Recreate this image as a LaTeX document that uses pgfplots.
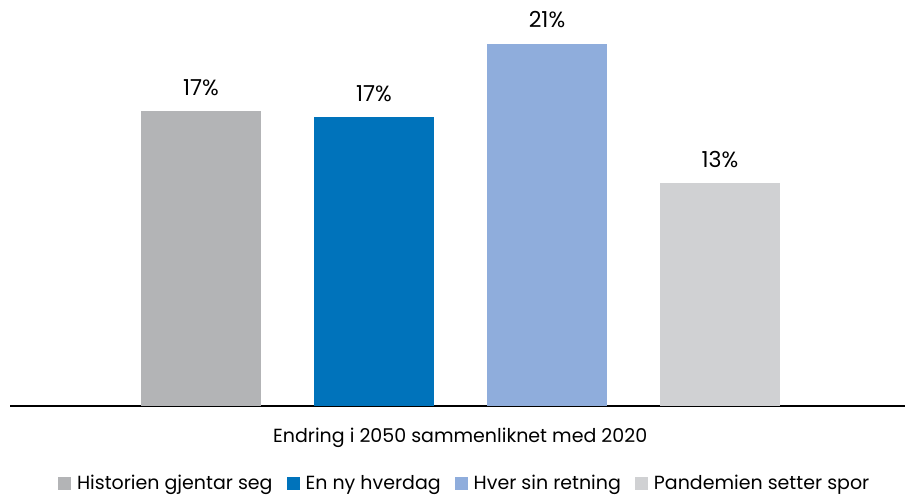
\documentclass[border=0pt]{standalone}
\usepackage{fontspec}
\setmainfont{Poppins}
\usepackage{pgfplots}
\pgfplotsset{compat=1.18}
\definecolor{cA}{RGB}{179,180,182}
\definecolor{cB}{RGB}{0,115,187}
\definecolor{cC}{RGB}{143,173,220}
\definecolor{cD}{RGB}{208,209,211}
\begin{document}
\begin{tikzpicture}
\useasboundingbox (0,0) rectangle (905pt,497pt);
\begin{axis}[
  at={(10pt,91pt)}, anchor=south west,
  scale only axis, width=895pt, height=406pt,
  xmin=-1.104, xmax=4.069, ymin=0, ymax=23.55,
  axis x line=bottom, axis y line=none,
  axis line style={-, black, line width=1.5pt},
  xtick=\empty, ytick=\empty,
  clip=false,
  ybar, bar width=120pt, bar shift=0pt,
  /pgf/number format/assume math mode=true,
  nodes near coords={\pgfmathprintnumber[fixed,precision=0]{\pgfplotspointmeta}\%},
  every node near coord/.style={anchor=base, yshift=16pt, font=\fontsize{22}{26}\selectfont, text=black},
  xlabel={Endring i 2050 sammenliknet med 2020},
  xlabel style={at={(axis description cs:0.503,0)}, anchor=base, yshift=-37pt, font=\fontsize{19}{22}\selectfont},
  legend columns=4,
  legend style={draw=none, at={(0.508,-0.190)}, anchor=center,
    font=\fontsize{19}{22}\selectfont,
    /tikz/every odd column/.append style={column sep=4pt},
    /tikz/every even column/.append style={column sep=12pt}},
  legend image code/.code={\fill[#1] (0pt,-6.5pt) rectangle (13pt,6.5pt);},
]
\addplot[fill=cA, draw=none] coordinates {(0,17.11)};
\addlegendentry{Historien gjentar seg}
\addplot[fill=cB, draw=none] coordinates {(1,16.76)};
\addlegendentry{En ny hverdag}
\addplot[fill=cC, draw=none] coordinates {(2,21.0)};
\addlegendentry{Hver sin retning}
\addplot[fill=cD, draw=none] coordinates {(3,12.93)};
\addlegendentry{Pandemien setter spor}
\end{axis}
\end{tikzpicture}
\end{document}
